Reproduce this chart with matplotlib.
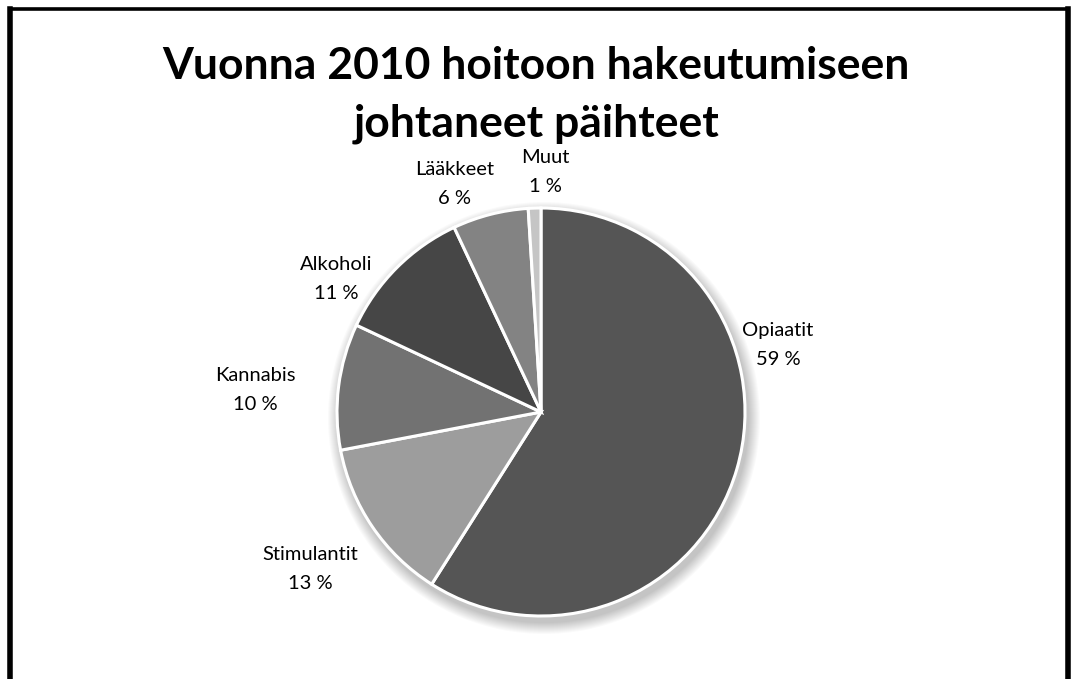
import matplotlib.pyplot as plt
import matplotlib.patches as mpatches
import numpy as np

plt.rcParams['font.family'] = ['Lato', 'DejaVu Sans']

# data
aineet = ['Opiaatit', 'Stimulantit', 'Kannabis', 'Alkoholi', 'Lääkkeet', 'Muut']
osuudet = [59, 13, 10, 11, 6, 1]
varit = ['#555555', '#9d9d9d', '#727272', '#464646', '#838383', '#c5c5c5']

W, H = 1072, 679
fig = plt.figure(figsize=(W / 100, H / 100), dpi=100)
ax = fig.add_axes([0, 0, 1, 1])

cx, cy, R = 541, H - 412, 204

# soft shadow below the pie
for i in range(12):
    ax.add_patch(mpatches.Circle((cx + 3, cy - 6), R + 12 - i, color='k',
                                 alpha=0.018, lw=0, zorder=1))

ax.pie(osuudet, colors=varit, startangle=90, counterclock=False,
       center=(cx, cy), radius=R, frame=True,
       wedgeprops=dict(edgecolor='white', linewidth=2.2, zorder=2))
ax.set_xlim(0, W)
ax.set_ylim(0, H)
ax.set_aspect('equal')
ax.axis('off')

# label positions (pixels relative to pie centre)
paikat = [(237, 67), (-231, -157), (-286, 22), (-205, 133), (-86, 228), (4, 240)]
for nimi, arvo, (dx, dy) in zip(aineet, osuudet, paikat):
    ax.text(cx + dx, cy + dy, f'{nimi}\n{arvo} %', ha='center', va='center',
            fontsize=14.5, linespacing=1.8, color='black', zorder=5)

ax.text(W / 2 - 0, H - 95, 'Vuonna 2010 hoitoon hakeutumiseen\njohtaneet päihteet',
        ha='center', va='center', fontsize=32, fontweight='bold',
        linespacing=1.55, zorder=5)

# frame of the slide
ax.plot([9.5, 9.5], [0, H - 8.5], color='black', lw=4, solid_capstyle='projecting')
ax.plot([9.5, 1067.5], [H - 8.5, H - 8.5], color='black', lw=2.6, solid_capstyle='projecting')
ax.plot([1067.5, 1067.5], [0, H - 8.5], color='black', lw=4, solid_capstyle='projecting')

fig.savefig('out.png', dpi=100)
